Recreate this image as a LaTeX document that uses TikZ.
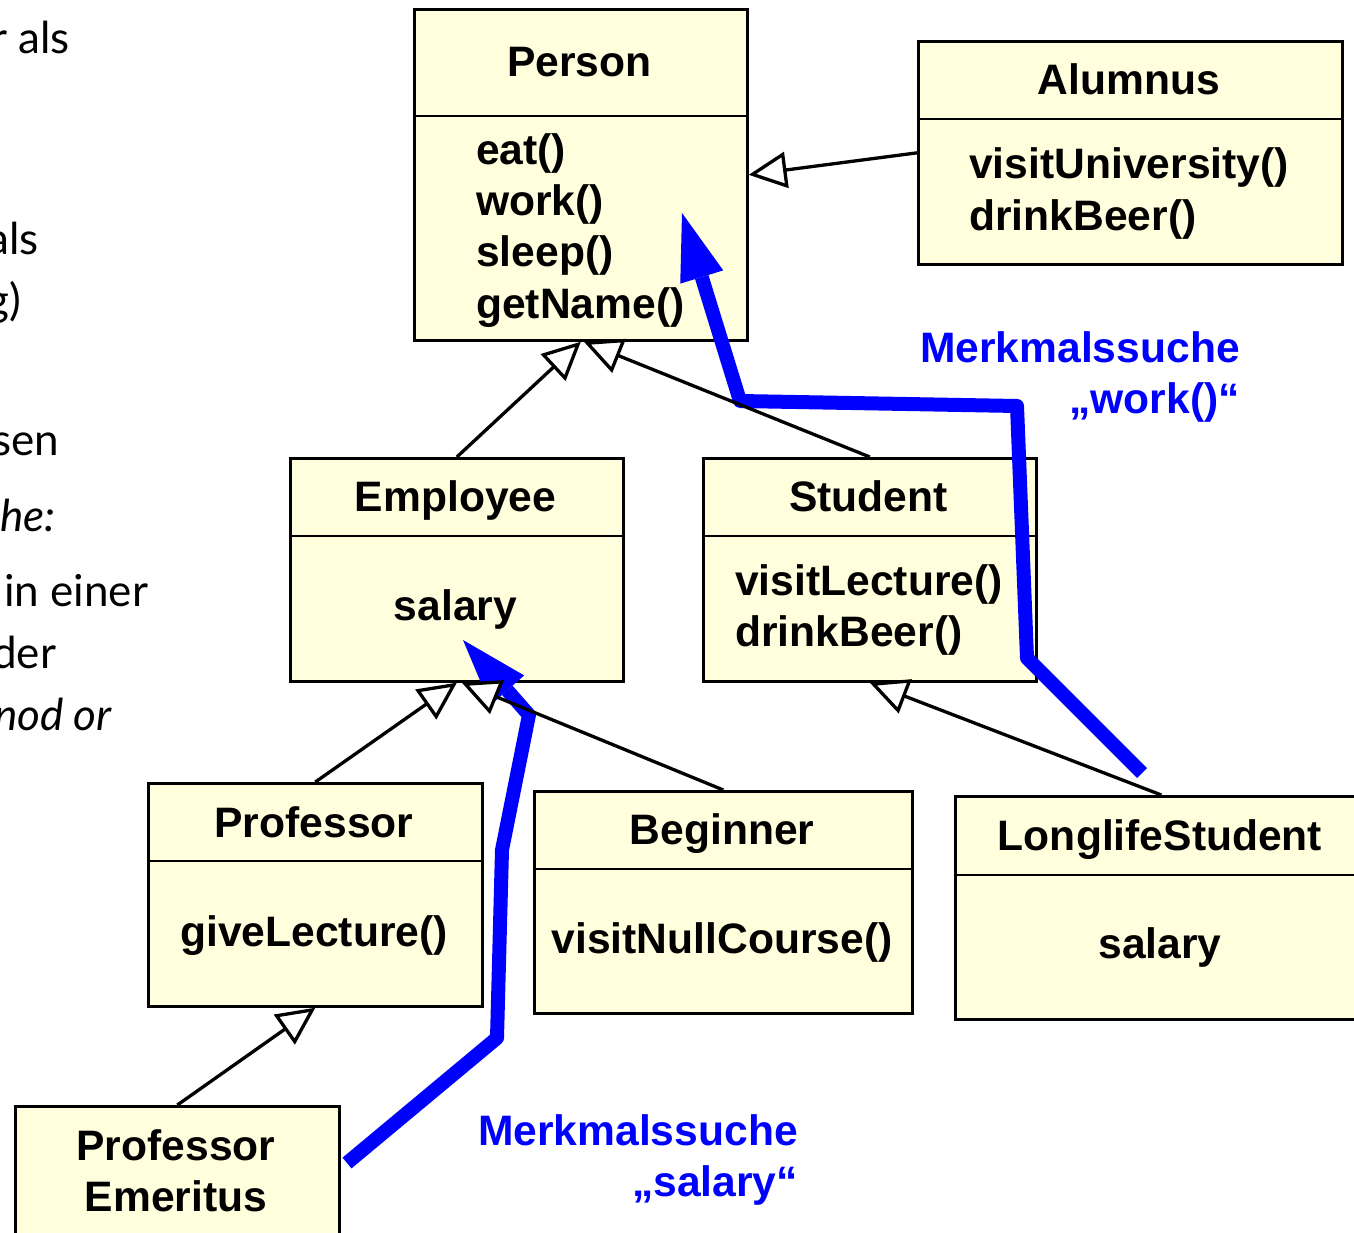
\documentclass[tikz,border=0pt]{standalone}
\usepackage{fontspec}
\setmainfont{Liberation Sans}
\newfontfamily\latofont{Lato}
\usetikzlibrary{arrows.meta,calc}
\definecolor{clsfill}{HTML}{FFFFDD}
\definecolor{searchblue}{HTML}{0000FF}
\begin{document}
\begin{tikzpicture}[x=1pt,y=-1pt,
  cls/.style={draw=black,line width=2.7pt,fill=clsfill,rectangle,anchor=north west,inner sep=0pt},
  divider/.style={draw=black,line width=2.7pt},
  txt/.style={font=\fontsize{42.6}{51}\selectfont\bfseries,inner sep=0pt},
  ctitle/.style={txt,anchor=base},
  meth/.style={txt,anchor=base west},
  gen/.style={line width=3.3pt,-{Triangle[open,fill=white,length=38pt,width=36pt]}},
  search/.style={draw=searchblue,line width=14pt,line join=round,
    -{Triangle[length=67pt,width=45pt,line width=0pt,fill=searchblue]}},
  searchlbl/.style={txt,text=searchblue,anchor=base east},
  side/.style={font=\latofont\fontsize{44}{50}\selectfont,inner sep=0pt,anchor=base west}
]
\useasboundingbox (0,0) rectangle (1354,1233);
\clip (0,0) rectangle (1354,1233);
\fill[white] (0,0) rectangle (1354,1233);

% cropped slide text on the left
\node[side] (s1) at (-9,54) {r als};
\node[side] (s2) at (-13,255) {als};
\node[side] (s3) at (-14,316) {g)};
\node[side] (s4) at (-8,455) {sen};
\node[side] (s5) at (0,531) {\itshape he:};
\node[side] (s6) at (4,606) {in einer};
\node[side] (s7) at (-8,668) {der};
\node[side] (s8) at (-6,730) {\itshape nod or};

% class boxes
\node[cls,minimum width=333pt,minimum height=331pt] (person) at (413,8) {};
\node[cls,minimum width=424pt,minimum height=223pt] (alumnus) at (917,40) {};
\node[cls,minimum width=333pt,minimum height=223pt] (employee) at (289,457) {};
\node[cls,minimum width=333pt,minimum height=223pt] (student) at (702,457) {};
\node[cls,minimum width=334pt,minimum height=223pt] (professor) at (147,782) {};
\node[cls,minimum width=378pt,minimum height=222pt] (beginner) at (533,790) {};
\node[cls,minimum width=412pt,minimum height=223pt] (longlife) at (954,795) {};
\node[cls,minimum width=324pt,minimum height=160pt] (emeritus) at (14,1105) {};

% dividers
\draw[divider] ($(person.north west)+(0,108)$) -- ($(person.north east)+(0,108)$);
\draw[divider] ($(alumnus.north west)+(0,79)$) -- ($(alumnus.north east)+(0,79)$);
\draw[divider] ($(employee.north west)+(0,79)$) -- ($(employee.north east)+(0,79)$);
\draw[divider] ($(student.north west)+(0,79)$) -- ($(student.north east)+(0,79)$);
\draw[divider] ($(professor.north west)+(0,79)$) -- ($(professor.north east)+(0,79)$);
\draw[divider] ($(beginner.north west)+(0,79)$) -- ($(beginner.north east)+(0,79)$);
\draw[divider] ($(longlife.north west)+(0,80)$) -- ($(longlife.north east)+(0,80)$);

% texts
\node[ctitle] (personT) at (579.5,77) {Person};
\node[meth] (p1) at (476,165) {eat()};
\node[meth] (p2) at (476,216) {work()};
\node[meth] (p3) at (476,267) {sleep()};
\node[meth] (p4) at (476,318) {getName()};

\node[ctitle] (alumnusT) at (1129,95) {Alumnus};
\node[meth] (a1) at (969,179) {visitUniversity()};
\node[meth] (a2) at (969,231) {drinkBeer()};

\node[ctitle] (employeeT) at (455.5,511) {Employee};
\node[ctitle] (e1) at (455.5,620) {salary};

\node[ctitle] (studentT) at (868.5,511) {Student};
\node[meth] (st1) at (735,595) {visitLecture()};
\node[meth] (st2) at (735,646) {drinkBeer()};

\node[ctitle] (professorT) at (314,837) {Professor};
\node[ctitle] (pr1) at (314,946) {giveLecture()};

\node[ctitle] (beginnerT) at (722,844) {Beginner};
\node[ctitle] (b1) at (722,953) {visitNullCourse()};

\node[ctitle] (longlifeT) at (1160,850) {LonglifeStudent};
\node[ctitle] (l1) at (1160,958) {salary};

\node[ctitle] (emeritusT1) at (176,1160) {Professor};
\node[ctitle] (emeritusT2) at (176,1211) {Emeritus};

% search paths
\coordinate (w0) at (1142,773);
\coordinate (w1) at (1027,658);
\coordinate (w2) at (1017,406);
\coordinate (w3) at (740,401);
\coordinate (w4) at (682,213);
\draw[search] (w0) -- (w1) -- (w2) -- (w3) -- (w4);

\coordinate (s0) at (347,1163);
\coordinate (s1c) at (497,1038);
\coordinate (s2c) at (502,850);
\coordinate (s3c) at (529,715);
\coordinate (s4c) at (463,640);
\draw[search] (s0) -- (s1c) -- (s2c) -- (s3c) -- (s4c);

\node[searchlbl] (lw1) at (1240,362) {Merkmalssuche};
\node[searchlbl] (lw2) at (1240,413) {„work()“};
\node[searchlbl] (ls1) at (798,1145) {Merkmalssuche};
\node[searchlbl] (ls2) at (798,1196) {„salary“};

% generalisation connectors
\draw[gen] (alumnus.west) -- (person.east);
\draw[gen] (employee.north) -- (person.south);
\draw[gen] (student.north) -- ($(person.south)+(3,0)$);
\draw[gen] (professor.north) -- (employee.south);
\draw[gen] (beginner.north) -- ($(employee.south)+(5,0)$);
\draw[gen] (longlife.north) -- (student.south);
\draw[gen] (emeritus.north) -- (professor.south);
\end{tikzpicture}
\end{document}
